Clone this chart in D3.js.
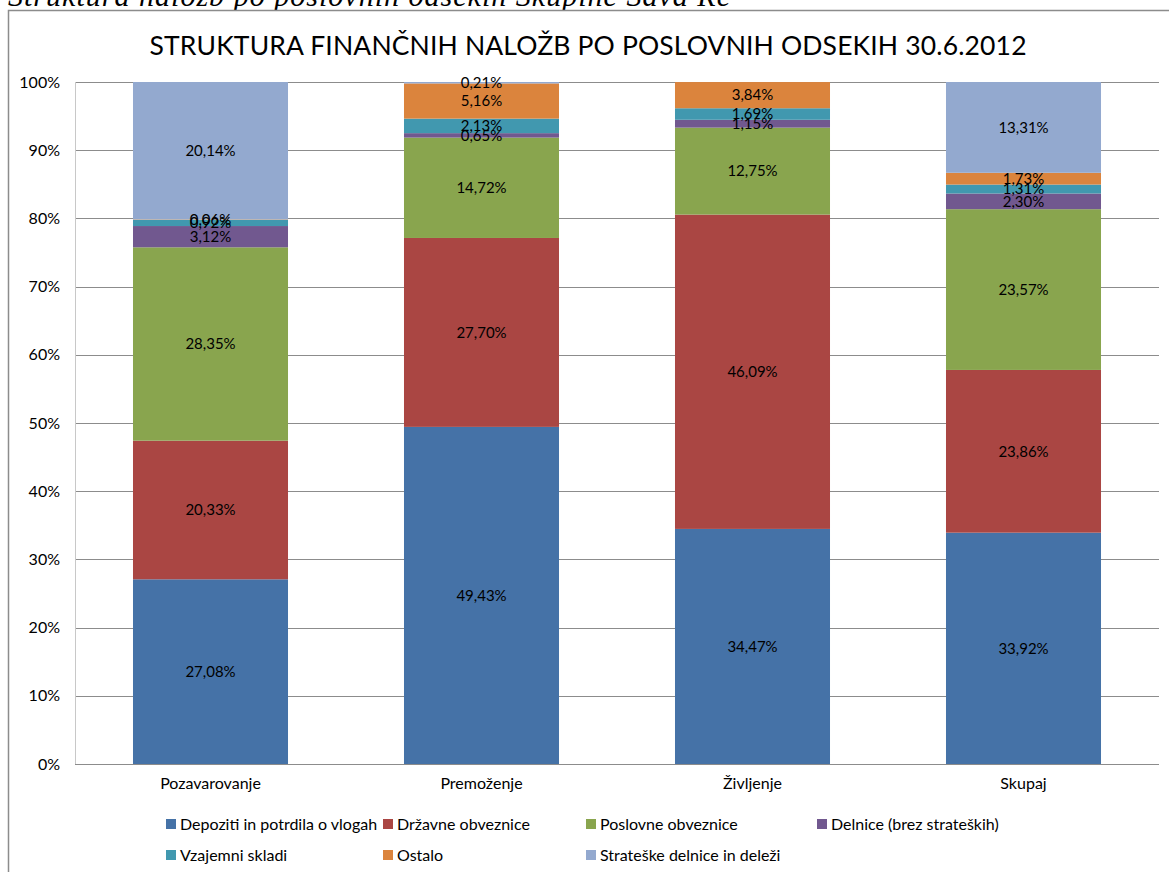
<!DOCTYPE html>
<html lang="sl">
<head>
    <meta charset="UTF-8">
    <title>Struktura finančnih naložb</title>
    <script src="https://cdn.jsdelivr.net/npm/d3@7/dist/d3.min.js"></script>
    <style>
        body { margin: 0; background: #fff; }
        text { font-family: Lato, "Open Sans", sans-serif; fill: #000; }
    </style>
</head>
<body>
<script>
    // podatki
    const categories = ['Pozavarovanje', 'Premoženje', 'Življenje', 'Skupaj'];
    const seriesNames = ['Depoziti in potrdila o vlogah', 'Državne obveznice', 'Poslovne obveznice',
        'Delnice (brez strateških)', 'Vzajemni skladi', 'Ostalo', 'Strateške delnice in deleži'];
    const depoziti = [27.08, 49.43, 34.47, 33.92];
    const drzavne = [20.33, 27.70, 46.09, 23.86];
    const poslovne = [28.35, 14.72, 12.75, 23.57];
    const delnice = [3.12, 0.65, 1.15, 2.30];
    const vzajemni = [0.92, 2.13, 1.69, 1.31];
    const ostalo = [0.06, 5.16, 3.84, 1.73];
    const strateske = [20.14, 0.21, 0, 13.31];
    const yTicks = [0, 10, 20, 30, 40, 50, 60, 70, 80, 90, 100];

    const colors = ['#4572A7', '#AA4643', '#89A54E', '#71588F', '#4198AF', '#DB843D', '#93A9CF'];
    const allSeries = [depoziti, drzavne, poslovne, delnice, vzajemni, ostalo, strateske];

    const rows = categories.map((c, i) => {
        const r = {cat: c};
        seriesNames.forEach((s, j) => r[s] = allSeries[j][i]);
        return r;
    });

    const width = 1169, height = 872;
    const plot = {left: 75, right: 1159, top: 82, bottom: 764};

    const svg = d3.select('body').append('svg')
        .attr('width', width)
        .attr('height', height);

    // napis nad grafom (odrezan)
    svg.append('text')
        .attr('x', 8)
        .attr('y', 6)
        .attr('textLength', 722)
        .style('font-family', '"Liberation Serif", serif')
        .style('font-style', 'italic')
        .style('font-size', '30px')
        .text('Struktura naložb po poslovnih odsekih Skupine Sava Re');

    // okvir grafa
    svg.append('rect')
        .attr('x', 8.5).attr('y', 10.5)
        .attr('width', 1200).attr('height', 900)
        .attr('fill', '#fff')
        .attr('stroke', '#8c8c8c')
        .attr('stroke-width', 1.5);

    svg.append('text')
        .attr('x', 588)
        .attr('y', 55)
        .attr('text-anchor', 'middle')
        .attr('textLength', 877)
        .style('font-size', '26.5px')
        .text('STRUKTURA FINANČNIH NALOŽB PO POSLOVNIH ODSEKIH 30.6.2012');

    const xScale = d3.scaleBand()
        .domain(categories)
        .range([plot.left, plot.right])
        .paddingInner(0.428)
        .paddingOuter(0.214);

    const yScale = d3.scaleLinear()
        .domain([0, 100])
        .range([plot.bottom, plot.top]);

    // mreža
    svg.append('g')
        .selectAll('line')
        .data(yTicks)
        .join('line')
        .attr('x1', plot.left).attr('x2', plot.right)
        .attr('y1', d => Math.round(yScale(d)) + 0.5)
        .attr('y2', d => Math.round(yScale(d)) + 0.5)
        .attr('stroke', '#8c8c8c');

    svg.append('line')
        .attr('x1', plot.left + 0.5).attr('x2', plot.left + 0.5)
        .attr('y1', plot.top).attr('y2', plot.bottom)
        .attr('stroke', '#c8c8c8');

    // y os
    const yAxis = d3.axisLeft(yScale)
        .tickValues(yTicks)
        .tickSize(0)
        .tickPadding(15)
        .tickFormat(d => d + '%');

    svg.append('g')
        .attr('transform', `translate(${plot.left}, 0)`)
        .call(yAxis)
        .call(g => g.select('.domain').remove())
        .selectAll('text')
        .style('font-family', 'Lato, sans-serif')
        .style('font-size', '16px')
        .attr('fill', '#000');

    // x os
    const xAxis = d3.axisBottom(xScale).tickSize(0).tickPadding(14);
    svg.append('g')
        .attr('transform', `translate(0, ${plot.bottom})`)
        .call(xAxis)
        .call(g => g.select('.domain').remove())
        .selectAll('text')
        .style('font-family', 'Lato, sans-serif')
        .style('font-size', '16px')
        .attr('fill', '#000');

    // stolpci
    const stacked = d3.stack().keys(seriesNames)(rows);

    const layers = svg.append('g')
        .selectAll('g')
        .data(stacked)
        .join('g')
        .attr('fill', (d, i) => colors[i]);

    layers.selectAll('rect')
        .data(d => d)
        .join('rect')
        .attr('x', d => xScale(d.data.cat))
        .attr('width', xScale.bandwidth())
        .attr('y', d => yScale(d[1]))
        .attr('height', d => yScale(d[0]) - yScale(d[1]));

    // oznake vrednosti
    const fmt = v => v.toFixed(2).replace('.', ',') + '%';
    const labels = svg.append('g');
    stacked.forEach(layer => {
        layer.forEach(d => {
            const v = d[1] - d[0];
            if (v <= 0) return;
            labels.append('text')
                .attr('x', xScale(d.data.cat) + xScale.bandwidth() / 2)
                .attr('y', yScale((d[0] + d[1]) / 2))
                .attr('dy', '0.35em')
                .attr('text-anchor', 'middle')
                .style('font-size', '15px')
                .text(fmt(v));
        });
    });

    // legenda
    const legendPos = [[166, 824], [383, 824], [586, 824], [817, 824], [166, 855], [383, 855], [586, 855]];
    const legend = svg.append('g')
        .selectAll('g')
        .data(seriesNames)
        .join('g')
        .attr('transform', (d, i) => `translate(${legendPos[i][0]}, ${legendPos[i][1]})`);

    legend.append('rect')
        .attr('x', 0).attr('y', -5)
        .attr('width', 10).attr('height', 10)
        .attr('fill', (d, i) => colors[i]);

    legend.append('text')
        .attr('x', 14)
        .attr('dy', '0.35em')
        .style('font-size', '16px')
        .text(d => d);
</script>
</body>
</html>
